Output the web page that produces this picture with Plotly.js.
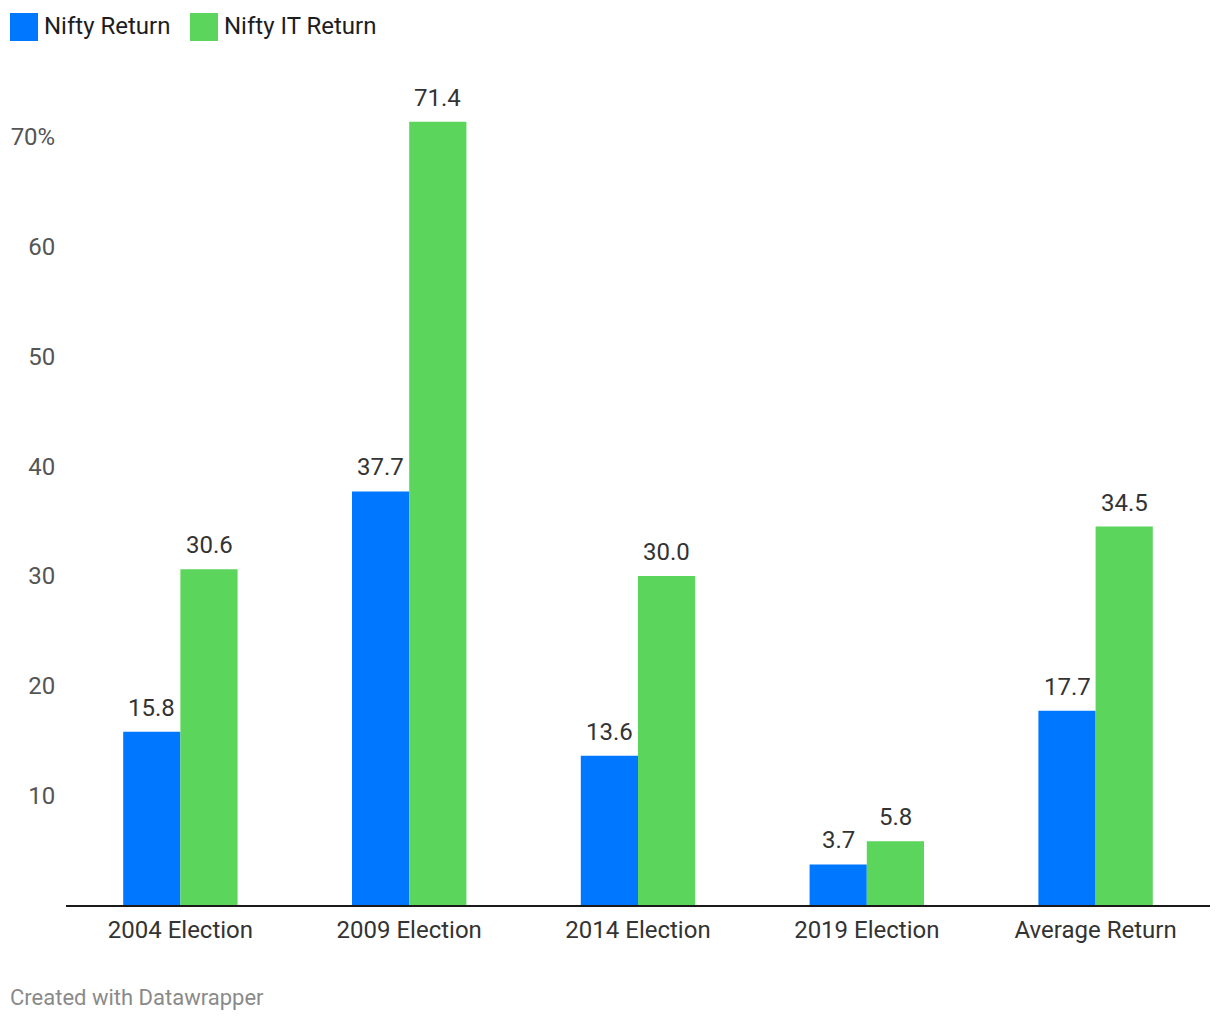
<!DOCTYPE html>
<html>
<head>
<meta charset="utf-8">
<script src="https://cdn.plot.ly/plotly-3.0.1.min.js"></script>
<style>
html,body{margin:0;padding:0;background:#fff;}
#chart{width:1220px;height:1020px;}
</style>
</head>
<body>
<div id="chart"></div>
<script>
const categories = ["2004 Election", "2009 Election", "2014 Election", "2019 Election", "Average Return"];
const seriesNames = ["Nifty Return", "Nifty IT Return"];
const niftyReturn = [15.8, 37.7, 13.6, 3.7, 17.7];
const niftyITReturn = [30.6, 71.4, 30.0, 5.8, 34.5];
const tickValues = [10, 20, 30, 40, 50, 60, 70];
const tickLabels = ["10", "20", "30", "40", "50", "60", "70%"];
const colors = ["#0077ff", "#5bd55b"];

const series = [niftyReturn, niftyITReturn];
const traces = series.map((vals, i) => ({
  type: 'bar',
  name: seriesNames[i],
  x: categories,
  y: vals,
  marker: {color: colors[i], line: {width: 0}},
  hoverinfo: 'x+y',
  showlegend: false
}));

const annotations = [];
const shift = [-28.6, 28.6];
series.forEach((vals, i) => {
  vals.forEach((v, j) => {
    annotations.push({
      x: categories[j], y: v, xref: 'x', yref: 'y',
      text: v.toFixed(1), showarrow: false,
      xanchor: 'center', yanchor: 'bottom',
      xshift: shift[i], yshift: 8,
      font: {family: 'Roboto, sans-serif', size: 24, color: '#333333'}
    });
  });
});

// legend
const shapes = [];
const legendX = [10, 190];
seriesNames.forEach((n, i) => {
  shapes.push({
    type: 'rect', xref: 'paper', yref: 'paper',
    x0: (legendX[i] - 66) / 1144, x1: (legendX[i] + 28 - 66) / 1144,
    y0: (905 - 41) / 825, y1: (905 - 13) / 825,
    fillcolor: colors[i], line: {width: 0}
  });
  annotations.push({
    xref: 'paper', yref: 'paper',
    x: (legendX[i] + 32 - 66) / 1144, y: (905 - 26) / 825,
    xanchor: 'left', yanchor: 'middle', showarrow: false,
    text: n,
    font: {family: 'Roboto, sans-serif', size: 24, color: '#1d1d1d'}
  });
});

annotations.push({
  xref: 'paper', yref: 'paper',
  x: (8 - 66) / 1144, y: (905 - 997) / 825,
  xanchor: 'left', yanchor: 'middle', showarrow: false,
  text: 'Created with Datawrapper',
  font: {family: 'Roboto, sans-serif', size: 22, color: '#8a8a8a'}
});

const layout = {
  width: 1220, height: 1020,
  margin: {l: 66, r: 10, t: 80, b: 115, pad: 0},
  paper_bgcolor: '#ffffff', plot_bgcolor: '#ffffff',
  barmode: 'group', bargap: 0.5, bargroupgap: 0,
  showlegend: false,
  font: {family: 'Roboto, sans-serif', color: '#333333'},
  xaxis: {
    type: 'category',
    showgrid: false, zeroline: false,
    showline: true, linecolor: '#1a1a1a', linewidth: 2,
    ticks: 'outside', ticklen: 2, tickcolor: 'rgba(0,0,0,0)',
    tickfont: {family: 'Roboto, sans-serif', size: 24, color: '#333333'}
  },
  yaxis: {
    range: [0, 75.2],
    showgrid: false, zeroline: false, showline: false,
    tickmode: 'array', tickvals: tickValues, ticktext: tickLabels,
    ticks: 'outside', ticklen: 5, tickcolor: 'rgba(0,0,0,0)',
    tickfont: {family: 'Roboto, sans-serif', size: 24, color: '#555555'}
  },
  shapes: shapes,
  annotations: annotations
};

Plotly.newPlot('chart', traces, layout, {displayModeBar: false, staticPlot: true});
</script>
</body>
</html>
